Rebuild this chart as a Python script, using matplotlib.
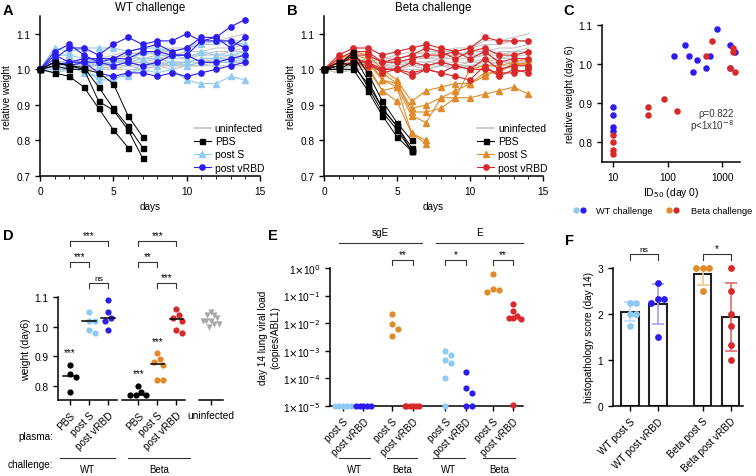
import numpy as np
import matplotlib
matplotlib.use('Agg')
import matplotlib.pyplot as plt
from matplotlib.lines import Line2D

plt.rcParams['font.family'] = ['Liberation Sans', 'DejaVu Sans']
plt.rcParams['font.size'] = 7.5
plt.rcParams['axes.linewidth'] = 1.1
plt.rcParams['xtick.major.width'] = 1.0
plt.rcParams['ytick.major.width'] = 1.0
plt.rcParams['xtick.major.size'] = 3.5
plt.rcParams['ytick.major.size'] = 3.5
plt.rcParams['xtick.labelsize'] = 7.3
plt.rcParams['ytick.labelsize'] = 7.3
plt.rcParams['axes.labelpad'] = 2.5

LBLUE = '#8fcaf3'
BLUE = '#2d1cf0'
ORANGE = '#e08a2a'
RED = '#d8282a'
GRAY = '#c4c4c4'
DGRAY = '#a8a8a8'

########## data ##########
days = list(range(15))

uninfected = [
    [1.00, 1.01, 1.03, 1.02, 1.03, 1.04, 1.05, 1.04, 1.05, 1.06, 1.06, 1.08, 1.08, 1.09, 1.10],
    [1.00, 1.02, 1.02, 1.03, 1.03, 1.03, 1.04, 1.05, 1.05, 1.05, 1.06, 1.07, 1.07, 1.08, 1.08],
    [1.00, 1.00, 1.01, 1.02, 1.03, 1.03, 1.04, 1.03, 1.04, 1.04, 1.05, 1.05, 1.06, 1.06, 1.07],
    [1.00, 1.01, 1.02, 1.02, 1.02, 1.02, 1.03, 1.03, 1.03, 1.04, 1.04, 1.04, 1.05, 1.05, 1.06],
    [1.00, 1.01, 1.01, 1.01, 1.02, 1.02, 1.02, 1.02, 1.03, 1.03, 1.03, 1.04, 1.04, 1.05, 1.05],
    [1.00, 1.00, 1.01, 1.01, 1.01, 1.02, 1.02, 1.01, 1.02, 1.02, 1.02, 1.03, 1.03, 1.04, 1.04],
    [1.00, 0.99, 1.00, 1.01, 1.01, 1.01, 1.02, 1.02, 1.02, 1.01, 1.02, 1.02, 1.03, 1.03, 1.03],
    [1.00, 1.00, 1.00, 1.00, 1.00, 1.01, 1.01, 1.01, 1.01, 1.01, 1.01, 1.02, 1.02, 1.02, 1.02],
    [1.00, 1.01, 1.02, 1.01, 1.01, 1.00, 1.01, 1.00, 1.01, 1.01, 1.01, 1.01, 1.01, 1.01, 1.01],
    [1.00, 0.99, 1.00, 1.00, 1.00, 1.00, 1.00, 1.00, 1.01, 1.00, 1.01, 1.01, 1.02, 1.02, 1.02],
]

wt_pbs = [
    [1.00, 0.99, 0.98, 0.95, 0.89, 0.83, 0.78],
    [1.00, 1.02, 1.01, 1.005, 0.95, 0.89, 0.84, 0.78],
    [1.00, 1.01, 1.00, 1.00, 0.91, 0.885, 0.83, 0.75],
    [1.00, 1.02, 1.01, 1.00, 0.99, 0.96, 0.87, 0.81],
]
wt_postS = [
    [1.00, 1.06, 1.05, 1.06, 1.06, 1.06, 1.05, 1.06, 1.06, 1.05, 1.06, 1.07, 1.08, 1.08, 1.07],
    [1.00, 1.04, 1.04, 1.03, 1.02, 1.03, 1.02, 1.05, 1.04, 1.04, 1.03, 1.05, 1.04, 1.04, 1.05],
    [1.00, 1.02, 1.02, 1.02, 1.01, 1.02, 1.02, 1.03, 1.03, 1.02, 1.02, 1.03, 1.03, 1.03, 1.04],
    [1.00, 1.00, 1.00, 1.00, 0.97, 0.97, 0.99, 1.00, 0.99, 1.00, 0.97, 0.96, 0.96, 0.98, 0.97],
    [1.00, 0.99, 1.01, 0.99, 0.98, 0.98, 0.98, 1.02, 1.01, 1.02, 1.01, 1.02, 1.02, 1.02, 1.03],
]
wt_vrbd = [
    [1.00, 1.03, 1.06, 1.06, 1.04, 1.07, 1.09, 1.07, 1.08, 1.08, 1.10, 1.08, 1.09, 1.12, 1.14],
    [1.00, 1.05, 1.07, 1.04, 1.02, 1.03, 1.05, 1.06, 1.07, 1.05, 1.06, 1.09, 1.09, 1.06, 1.09],
    [1.00, 1.04, 1.02, 1.03, 1.03, 1.03, 1.03, 1.05, 1.05, 1.04, 1.04, 1.08, 1.08, 1.08, 1.06],
    [1.00, 1.01, 1.02, 1.02, 1.02, 1.01, 1.02, 1.01, 1.02, 1.04, 1.04, 1.02, 1.02, 1.03, 1.04],
    [1.00, 1.02, 1.01, 1.02, 0.99, 0.98, 0.99, 0.99, 0.98, 0.99, 0.98, 0.99, 1.00, 1.01, 1.02],
]

beta_pbs = [
    [1.00, 1.01, 1.05, 0.99, 0.91, 0.85, 0.80],
    [1.00, 1.01, 1.04, 0.97, 0.89, 0.84, 0.78],
    [1.00, 1.00, 1.02, 0.95, 0.88, 0.83, 0.77],
    [1.00, 1.00, 1.00, 0.94, 0.87, 0.81, 0.77],
    [1.00, 1.02, 1.01, 0.96, 0.89, 0.84, 0.77],
]
beta_postS = [
    [1.00, 1.02, 1.03, 1.02, 0.97, 0.95, 0.82, 0.79],
    [1.00, 1.03, 1.04, 1.01, 0.94, 0.91, 0.82, 0.80],
    [1.00, 1.03, 1.05, 1.04, 1.00, 0.97, 0.91, 0.94, 0.95, 0.96, 0.96, 0.99, 0.99, 1.02, 1.03],
    [1.00, 1.02, 1.04, 1.03, 0.97, 0.96, 0.89, 0.90, 0.92, 0.94, 0.96, 0.98, 1.00, 1.01, 1.02],
    [1.00, 1.02, 1.03, 1.02, 0.99, 0.96, 0.88, 0.88, 0.89, 0.92, 1.00, 1.01, 1.01, 1.02, 1.01],
    [1.00, 1.01, 1.02, 1.00, 0.94, 0.95, 0.87, 0.85, 0.92, 0.92, 0.92, 0.93, 0.94, 0.95, 0.93],
]
beta_vrbd = [
    [1.00, 1.04, 1.06, 1.06, 1.04, 1.05, 1.06, 1.07, 1.06, 1.05, 1.06, 1.09, 1.08, 1.08, 1.08],
    [1.00, 1.03, 1.05, 1.05, 1.02, 1.03, 1.04, 1.06, 1.05, 1.03, 1.05, 1.06, 1.04, 1.04, 1.05],
    [1.00, 1.02, 1.04, 1.04, 1.02, 1.02, 1.03, 1.04, 1.04, 1.05, 1.03, 1.05, 1.02, 1.03, 1.03],
    [1.00, 1.01, 1.02, 1.02, 1.00, 1.00, 1.02, 1.01, 1.02, 1.01, 1.00, 1.03, 1.00, 1.01, 1.01],
    [1.00, 1.02, 1.03, 1.02, 0.99, 1.00, 0.99, 1.00, 0.99, 0.98, 0.97, 1.01, 0.98, 1.00, 0.99],
    [1.00, 1.01, 1.02, 1.01, 1.00, 1.00, 0.98, 1.00, 0.99, 1.01, 1.00, 1.00, 0.99, 0.99, 1.00],
]

# panel C: ID50 at day 0 vs relative weight at day 6
c_wt_id50 = [10, 10, 10, 10, 130, 210, 250, 285, 340, 500, 590, 790, 1380, 1350, 1670]
c_wt_wt6 = [0.89, 0.87, 0.84, 0.83, 1.02, 1.05, 1.02, 0.98, 1.01, 0.99, 1.02, 1.09, 1.05, 0.99, 1.03]
c_beta_id50 = [10, 10, 10, 10, 43, 43, 85, 147, 510, 650, 1400, 1550, 1550, 1700]
c_beta_wt6 = [0.82, 0.80, 0.78, 0.77, 0.89, 0.87, 0.91, 0.88, 1.02, 1.06, 0.99, 1.04, 1.03, 0.98]

# panel D: weight at day 6
d_labels = ['PBS', 'post S', 'post vRBD', 'PBS', 'post S', 'post vRBD', 'uninfected']
d_vals = [
    [0.87, 0.84, 0.83, 0.78],
    [1.05, 1.02, 1.02, 0.99, 0.98],
    [1.09, 1.05, 1.03, 1.02, 0.99],
    [0.80, 0.78, 0.77, 0.77, 0.77],
    [0.91, 0.89, 0.88, 0.87, 0.82, 0.82],
    [1.06, 1.04, 1.03, 1.02, 0.99, 0.98],
    [1.05, 1.04, 1.04, 1.03, 1.02, 1.02, 1.02, 1.01, 1.01, 1.00],
]

# panel E: day 14 lung viral load
e_labels = ['post S', 'post vRBD'] * 4
e_vals = [
    [1e-5, 1e-5, 1e-5, 1e-5, 1e-5],
    [1e-5, 1e-5, 1e-5, 1e-5, 1e-5],
    [0.022, 0.009, 0.006, 0.0035],
    [1e-5, 1e-5, 1e-5, 1e-5, 1e-5, 1e-5],
    [7e-4, 1e-3, 4.5e-4, 3.5e-4, 1e-4, 1e-5],
    [1.7e-4, 4.5e-5, 3e-5, 1e-5, 1e-5],
    [0.6, 0.18, 0.16, 0.14],
    [0.048, 0.027, 0.018, 0.016, 0.016, 0.014, 1.1e-5],
]

# panel F: histopathology score
f_labels = ['WT post S', 'WT post vRBD', 'Beta post S', 'Beta post vRBD']
f_vals = [
    [2.25, 2.25, 2.0, 2.0, 1.75],
    [2.67, 2.33, 2.25, 2.33, 1.5],
    [3.0, 3.0, 3.0, 2.5],
    [3.0, 2.5, 2.0, 1.75, 1.33, 1.0],
]


def swarm(vals, xunit, yunit, d=6.0, maxw=0.42):
    # simple beeswarm offsets (in x data units)
    vals = np.asarray(vals, dtype=float)
    placed = []
    out = np.zeros(len(vals))
    for i in np.argsort(vals)[::-1]:
        y = vals[i] * yunit
        for k in [0, 1, -1, 2, -2, 3, -3, 4, -4, 5, -5]:
            x = k * d * 0.5
            if all((x - px) ** 2 + (y - py) ** 2 >= d * d for px, py in placed):
                break
        placed.append((x, y))
        out[i] = x / xunit
    m = np.abs(out).max()
    if m > maxw:
        out *= maxw / m
    return out


def bracket(ax, x1, x2, y, txt, h=0.05, fs=7):
    tr = ax.get_xaxis_transform()
    ax.plot([x1, x1, x2, x2], [y - h, y, y, y - h], color='#333333', lw=0.8,
            transform=tr, clip_on=False)
    ax.text((x1 + x2) / 2, y + 0.01, txt, ha='center', va='bottom', transform=tr,
            fontsize=fs if txt != 'ns' else 6)


def group_line(ax, x1, x2, y, txt, dy=0.08, fs=7.5):
    tr = ax.get_xaxis_transform()
    ax.plot([x1, x2], [y, y], color='#333333', lw=0.8, transform=tr, clip_on=False)
    ax.text((x1 + x2) / 2, y - dy, txt, ha='center', va='center', transform=tr, fontsize=fs)


def style(ax):
    ax.spines['top'].set_visible(False)
    ax.spines['right'].set_visible(False)


def course(ax, pbs, postS, vrbd, cS, cV, title):
    for u in uninfected:
        ax.plot(days, u, color=GRAY, lw=0.8, zorder=1)
    for r in pbs:
        ax.plot(days[:len(r)], r, color='k', marker='s', ms=3.6, lw=0.7, zorder=3, clip_on=False)
    for r in postS:
        ax.plot(days[:len(r)], r, color=cS, marker='^', ms=3.8, lw=0.8, zorder=2, clip_on=False)
    for r in vrbd:
        ax.plot(days[:len(r)], r, color=cV, marker='o', ms=3.8, lw=0.8, zorder=2, clip_on=False)
    ax.set_xlim(0, 15)
    ax.set_ylim(0.7, 1.15)
    ax.set_xticks([0, 5, 10, 15])
    ax.set_xticks(range(16), minor=True)
    ax.tick_params(which='minor', length=2)
    ax.set_yticks([0.7, 0.8, 0.9, 1.0, 1.1])
    ax.set_ylabel('relative weight', fontsize=7.2, labelpad=3)
    ax.set_xlabel('days', fontsize=7.2, labelpad=4)
    ax.set_title(title, fontsize=8.3, pad=4)
    style(ax)
    hs = [Line2D([], [], color=GRAY, lw=1.2),
          Line2D([], [], color='k', marker='s', ms=3.6, lw=0.8),
          Line2D([], [], color=cS, marker='^', ms=3.8, lw=0.8),
          Line2D([], [], color=cV, marker='o', ms=3.8, lw=0.8)]
    ax.legend(hs, ['uninfected', 'PBS', 'post S', 'post vRBD'], loc='upper left',
              bbox_to_anchor=(0.70, 0.33), frameon=False, fontsize=7.5, handlelength=1.6,
              handletextpad=0.4, labelspacing=0.3, borderpad=0, borderaxespad=0)


fig = plt.figure(figsize=(7.56, 4.77), dpi=100)

########## A / B ##########
axA = fig.add_axes([40 / 756, 1 - 177 / 477, 220 / 756, 160 / 477])
course(axA, wt_pbs, wt_postS, wt_vrbd, LBLUE, BLUE, 'WT challenge')
axB = fig.add_axes([324 / 756, 1 - 177 / 477, 219 / 756, 160 / 477])
course(axB, beta_pbs, beta_postS, beta_vrbd, ORANGE, RED, 'Beta challenge')

########## C ##########
axC = fig.add_axes([602 / 756, 1 - 163 / 477, 138 / 756, 137 / 477])
axC.scatter(c_wt_id50, c_wt_wt6, s=22, color=BLUE, zorder=3, lw=0)
axC.scatter(c_beta_id50, c_beta_wt6, s=22, color=RED, zorder=3, lw=0)
axC.set_xscale('log')
axC.set_xlim(6.3, 2100)
axC.set_ylim(0.75, 1.1)
axC.set_xticks([10, 100, 1000])
axC.set_xticklabels(['10', '100', '1000'])
axC.minorticks_off()
axC.set_yticks([0.8, 0.9, 1.0, 1.1])
axC.set_ylabel('relative weight (day 6)', fontsize=7.2)
axC.set_xlabel('ID$_{50}$ (day 0)', fontsize=7.5)
axC.text(0.955, 0.36, 'ρ=0.822', transform=axC.transAxes, ha='right', va='center', fontsize=7, color='#333333')
axC.text(0.955, 0.27, 'p<1x10$^{-8}$', transform=axC.transAxes, ha='right', va='center', fontsize=7, color='#333333')
style(axC)
# legend for panel C, drawn as two colour dots per challenge
ly = 1 - 211 / 477
for x, c in [(576, LBLUE), (583, BLUE), (669, ORANGE), (676, RED)]:
    fig.add_artist(Line2D([x / 756], [ly], transform=fig.transFigure, marker='o', ms=4.5,
                          color=c, mec='none', ls=''))
fig.text(596 / 756, ly, 'WT challenge', ha='left', va='center', fontsize=6.7)
fig.text(691 / 756, ly, 'Beta challenge', ha='left', va='center', fontsize=6.7)

########## D ##########
axD = fig.add_axes([58 / 756, 1 - 401 / 477, 165 / 756, 103 / 477])
d_pos = [0, 1, 2, 3.6, 4.6, 5.6, 7.4]
d_cols = ['k', LBLUE, BLUE, 'k', ORANGE, RED, DGRAY]
for i, (p, v, c) in enumerate(zip(d_pos, d_vals, d_cols)):
    off = swarm(v, 19, 297, d=6.0)
    axD.scatter(p + off, v, s=20, color=c, lw=0, zorder=3, clip_on=False,
                marker='v' if i == 6 else 'o')
    if i < 6:
        m = np.median(v)
        axD.plot([p - 0.35, p + 0.35], [m, m], color='k', lw=1.1, zorder=4)
axD.set_xlim(-0.63, 8.05)
axD.set_ylim(0.753, 1.1)
axD.set_yticks([0.8, 0.9, 1.0, 1.1])
axD.set_ylabel('weight (day6)', fontsize=7.5)
axD.set_xticks(d_pos)
axD.set_xticklabels(d_labels, fontsize=7.3)
for k, t in enumerate(axD.get_xticklabels()):
    if k < 6:
        t.set_rotation(45)
        t.set_ha('right')
        t.set_va('top')
        t.set_rotation_mode('anchor')
style(axD)
axD.spines['bottom'].set_visible(False)
trD = axD.get_xaxis_transform()
for a, b in [(-0.63, 2.47), (2.74, 6.05), (6.8, 8.05)]:
    axD.plot([a, b], [0, 0], color='k', lw=1.1, transform=trD, clip_on=False)
for p, y in [(d_pos[0], 0.915), (d_pos[3], 0.845), (d_pos[4], 0.95)]:
    axD.text(p, y, '***', ha='center', va='center', fontsize=7)
bracket(axD, d_pos[0], d_pos[2], 1.544, '***')
bracket(axD, d_pos[0], d_pos[1], 1.34, '***')
bracket(axD, d_pos[1], d_pos[2], 1.136, 'ns')
bracket(axD, d_pos[3], d_pos[5], 1.544, '***')
bracket(axD, d_pos[3], d_pos[4], 1.34, '**')
bracket(axD, d_pos[4], d_pos[5], 1.136, '***')
group_line(axD, -0.53, 2.37, -0.563, 'WT', dy=0.11, fs=7)
group_line(axD, 3.05, 6.32, -0.563, 'Beta', dy=0.11, fs=7)
fig.text(53 / 756, 1 - 437 / 477, 'plasma:', ha='right', va='center', fontsize=7.2)
fig.text(53 / 756, 1 - 465 / 477, 'challenge:', ha='right', va='center', fontsize=7.2)

########## E ##########
axE = fig.add_axes([330 / 756, 1 - 407 / 477, 193 / 756, 138 / 477])
e_pos = [0, 1, 2.4, 3.4, 5.0, 6.0, 7.3, 8.3]
e_cols = [LBLUE, BLUE, ORANGE, RED] * 2
for p, v, c in zip(e_pos, e_vals, e_cols):
    off = swarm(np.log10(v), 20.5, 27.6, d=6.0, maxw=0.38)
    axE.scatter(p + off, v, s=20, color=c, lw=0, zorder=3, clip_on=False)
axE.set_yscale('log')
axE.set_ylim(1e-5, 1)
axE.set_xlim(-0.63, 8.78)
axE.set_yticks([10.0 ** k for k in range(-5, 1)])
axE.set_yticklabels([r'1$\times$10$^{%d}$' % k for k in range(-5, 1)], fontsize=7.3)
axE.minorticks_off()
axE.set_ylabel('day 14 lung viral load\n(copies/ABL1)', fontsize=7.2, labelpad=2)
axE.set_xticks(e_pos)
axE.set_xticklabels(e_labels, rotation=45, ha='right', va='top', rotation_mode='anchor', fontsize=7.2)
style(axE)
trE = axE.get_xaxis_transform()
for a, b, y, t in [(-0.2, 3.85, 1.18, 'sgE'), (4.56, 8.78, 1.18, 'E')]:
    axE.plot([a, b], [y, y], color='#333333', lw=0.8, transform=trE, clip_on=False)
    axE.text((a + b) / 2, y + 0.08, t, ha='center', va='center', transform=trE, fontsize=7.2)
bracket(axE, e_pos[2], e_pos[3], 1.058, '**', h=0.036)
bracket(axE, e_pos[4], e_pos[5], 1.058, '*', h=0.036)
bracket(axE, e_pos[6], e_pos[7], 1.058, '**', h=0.036)
for a, b, t in [(-0.2, 1.32, 'WT'), (2.15, 3.6, 'Beta'), (4.39, 5.95, 'WT'), (6.83, 8.39, 'Beta')]:
    group_line(axE, a, b, -0.377, t, dy=0.08, fs=7)

########## F ##########
axF = fig.add_axes([613 / 756, 1 - 407 / 477, 130 / 756, 138 / 477])
f_pos = [0, 1, 2.6, 3.6]
f_cols = [LBLUE, BLUE, ORANGE, RED]
f_ecols = ['#b9ddf7', '#a59cf6', '#f2c48e', '#e36a6a']
for p, v, c, ec in zip(f_pos, f_vals, f_cols, f_ecols):
    m, sd = np.mean(v), np.std(v, ddof=1)
    axF.bar(p, m, width=0.61, color='white', edgecolor='#222222', lw=1.5, zorder=1)
    axF.errorbar(p, m, yerr=sd, color=ec, capsize=4, lw=1.2, capthick=1.2, zorder=2)
    off = swarm(v, 28, 46, d=6.5, maxw=0.4)
    axF.scatter(p + off, v, s=24, color=c, lw=0, zorder=3, clip_on=False)
axF.set_xlim(-0.607, 4.036)
axF.set_ylim(0, 3)
axF.set_yticks([0, 1, 2, 3])
axF.set_ylabel('histopathology score (day 14)', fontsize=7.2)
axF.set_xticks(f_pos)
axF.set_xticklabels(f_labels, rotation=45, ha='right', va='top', rotation_mode='anchor', fontsize=7.2)
style(axF)
bracket(axF, f_pos[0], f_pos[1], 1.101, 'ns', h=0.04)
bracket(axF, f_pos[2], f_pos[3], 1.101, '*', h=0.04)

########## panel letters ##########
for x, y, t in [(3, 4, 'A'), (287, 4, 'B'), (563, 4, 'C'), (3, 229, 'D'), (268, 229, 'E'), (565, 234, 'F')]:
    fig.text(x / 756, 1 - y / 477, t, fontsize=10.5, weight='bold', va='top', ha='left')

fig.savefig('out.png', dpi=100)
